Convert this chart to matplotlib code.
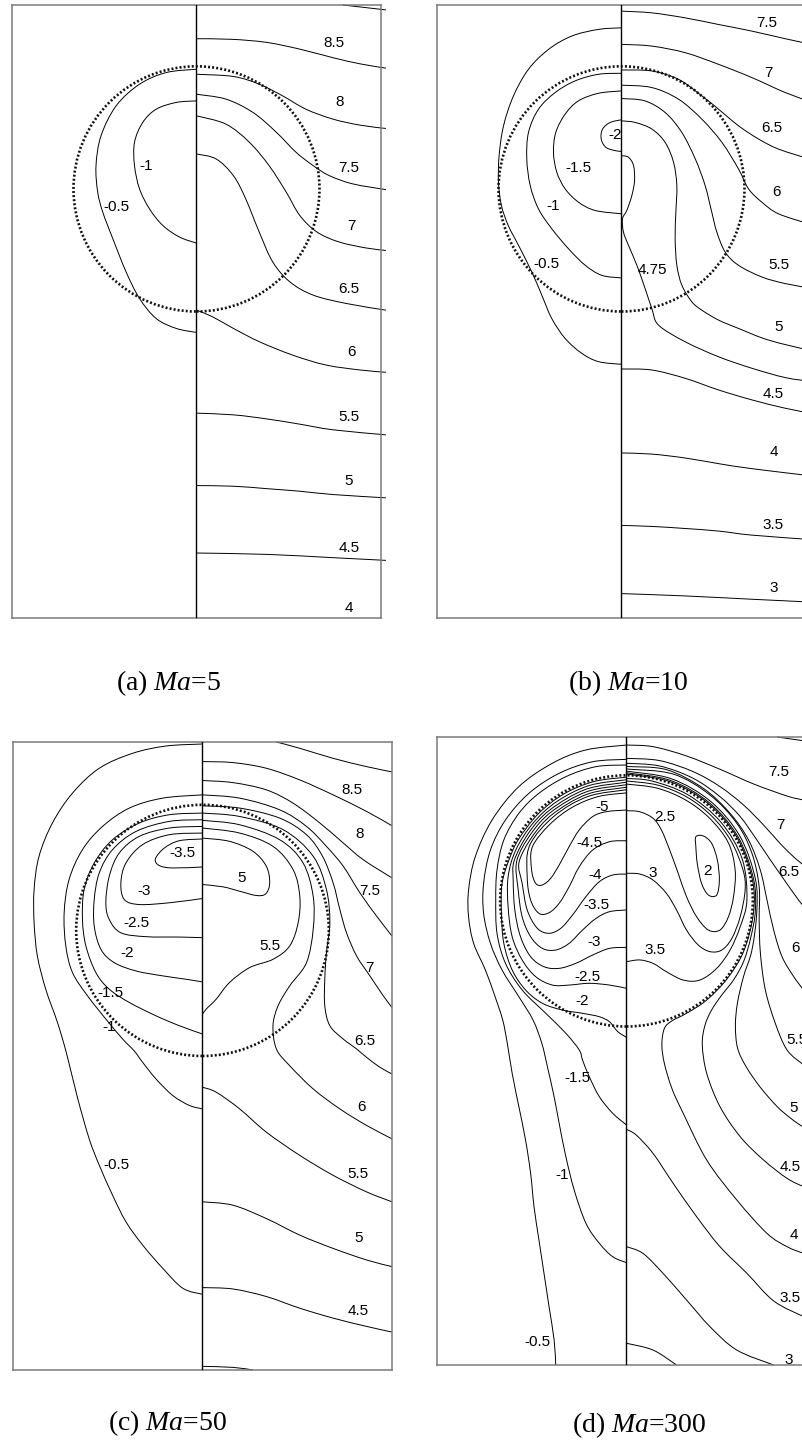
import matplotlib
matplotlib.use("Agg")
import matplotlib.pyplot as plt
from matplotlib.patches import Circle, PathPatch
from matplotlib.path import Path

# contour lines, in drop radii (drop centre on the axis)
# ---- (a) Ma=5
a_lines = [
    [(1.19, 1.50), (1.54, 1.46)],
    [(0, 1.225), (.29, 1.22), (.57, 1.195), (.84, 1.14), (1.11, 1.07), (1.33, 1.02), (1.54, .985)],
    [(0, .935), (.30, .917), (.51, .854), (.70, .759), (.89, .650), (1.11, .569), (1.33, .520), (1.54, .493)],
    [(0, .772), (.24, .732), (.46, .623), (.65, .461), (.81, .298), (.95, .189), (1.08, .108), (1.27, .041), (1.54, -.006)],
    [(0, .596), (.24, .528), (.43, .38), (.59, .19), (.73, -.027), (.84, -.217), (.98, -.352), (1.16, -.433), (1.38, -.482), (1.54, -.502)],
    [(0, .285), (.16, .244), (.30, .108), (.40, -.081), (.51, -.352), (.62, -.596), (.76, -.759), (.95, -.867), (1.22, -.935), (1.54, -.989)],
    [(0, -.989), (.13, -1.043), (.30, -1.138), (.51, -1.246), (.78, -1.355), (1.05, -1.436), (1.33, -1.477), (1.54, -1.496)],
    [(0, -1.829), (.30, -1.843), (.57, -1.876), (.84, -1.919), (1.11, -1.965), (1.54, -2.006)],
    [(0, -2.420), (.30, -2.425), (.57, -2.445), (.84, -2.466), (1.11, -2.493), (1.54, -2.520)],
    [(0, -2.970), (.57, -2.981), (1.11, -3.008), (1.54, -3.030)],
    [(0, .976), (-.246, .949), (-.463, .854), (-.653, .678), (-.776, .434), (-.817, .190), (-.803, -.027), (-.762, -.190),
     (-.680, -.407), (-.572, -.678), (-.463, -.894), (-.328, -1.057), (-.165, -1.138), (0, -1.171)],
    [(0, .718), (-.165, .705), (-.328, .650), (-.437, .542), (-.504, .380), (-.504, .190), (-.463, 0), (-.382, -.163),
     (-.274, -.298), (-.138, -.393), (0, -.442)],
]
a_labels = [("8.5", 1.12, 1.19), ("8", 1.16, .71), ("7.5", 1.24, .168), ("7", 1.26, -.306), ("6.5", 1.24, -.82),
            ("6", 1.26, -1.33), ("5.5", 1.24, -1.862), ("5", 1.24, -2.38), ("4.5", 1.24, -2.93), ("4", 1.24, -3.42),
            ("-0.5", -.65, -.15), ("-1", -.41, .19)]

# ---- (b) Ma=10
b_lines = [
    [(0, 1.450), (.245, 1.436), (.518, 1.395), (.789, 1.341), (1.060, 1.287), (1.331, 1.225), (1.54, 1.18)],
    [(0, 1.179), (.245, 1.165), (.518, 1.111), (.789, 1.016), (1.060, .908), (1.331, .786), (1.54, .71)],
    [(0, .970), (.245, .962), (.463, .894), (.653, .759), (.789, .650), (.951, .515), (1.114, .407), (1.276, .325), (1.54, .24)],
    [(0, .846), (.245, .827), (.463, .732), (.653, .569), (.816, .380), (.951, .163), (1.033, 0), (1.141, -.108), (1.276, -.203), (1.54, -.29)],
    [(0, .737), (.19, .718), (.355, .623), (.49, .461), (.60, .244), (.68, .027), (.734, -.190), (.775, -.352), (.843, -.515),
     (.951, -.623), (1.14, -.718), (1.33, -.772), (1.54, -.81)],
    [(0, .555), (.111, .542), (.247, .488), (.355, .379), (.423, .217), (.450, .027), (.442, -.190), (.436, -.407), (.450, -.623),
     (.491, -.786), (.572, -.921), (.653, -.989), (.789, -1.070), (.951, -1.138), (1.195, -1.233), (1.54, -1.32)],
    [(0, .271), (.057, .258), (.098, .190), (.106, .068), (.084, -.054), (.043, -.176), (.008, -.244), (.016, -.352), (.057, -.461),
     (.125, -.623), (.192, -.813), (.247, -.976), (.301, -1.111), (.518, -1.247), (.789, -1.369), (1.060, -1.463), (1.331, -1.539), (1.54, -1.57)],
    [(0, -1.469), (.245, -1.477), (.518, -1.545), (.789, -1.640), (1.060, -1.721), (1.331, -1.789), (1.54, -1.83)],
    [(0, -2.154), (.245, -2.163), (.518, -2.195), (.789, -2.241), (1.060, -2.282), (1.54, -2.34)],
    [(0, -2.745), (.245, -2.753), (.518, -2.770), (.789, -2.791), (1.060, -2.824), (1.54, -2.86)],
    [(0, -3.301), (.518, -3.320), (1.060, -3.347), (1.54, -3.37)],
    [(0, 1.314), (-.187, 1.301), (-.404, 1.247), (-.593, 1.138), (-.756, .976), (-.878, .759), (-.959, .515), (-.995, .271),
     (-1.0, .054), (-.976, -.136), (-.921, -.298), (-.837, -.461), (-.729, -.678), (-.648, -.867), (-.567, -1.057),
     (-.458, -1.220), (-.323, -1.341), (-.187, -1.409), (0, -1.431)],
    [(0, .943), (-.187, .935), (-.377, .881), (-.539, .786), (-.675, .650), (-.756, .461), (-.770, .244), (-.742, .027),
     (-.675, -.163), (-.567, -.325), (-.431, -.488), (-.295, -.623), (-.160, -.705), (0, -.726)],
    [(0, .799), (-.187, .780), (-.350, .718), (-.458, .610), (-.534, .461), (-.553, .298), (-.526, .136), (-.458, 0),
     (-.350, -.108), (-.214, -.176), (0, -.203)],
    [(0, .564), (-.092, .542), (-.154, .488), (-.165, .407), (-.127, .339), (-.051, .312), (0, .306)],
]
b_labels = [("7.5", 1.18, 1.355), ("7", 1.195, .949), ("6.5", 1.22, .50), ("6", 1.26, -.027), ("5.5", 1.276, -.62),
            ("5", 1.276, -1.125), ("4.75", .25, -.664), ("4.5", 1.236, -1.675), ("4", 1.236, -2.146),
            ("3.5", 1.228, -2.74), ("3", 1.236, -3.257), ("-0.5", -.607, -.610), ("-1", -.553, -.136),
            ("-1.5", -.350, .168), ("-2", -.051, .439)]

# ---- (c) Ma=50
c_lines = [
    [(.585, 1.5), (.770, 1.450), (1.034, 1.370), (1.299, 1.304), (1.5, 1.262)],
    [(0, 1.344), (.241, 1.336), (.505, 1.291), (.770, 1.198), (1.034, 1.079), (1.299, .947), (1.5, .833)],
    [(0, 1.193), (.238, 1.177), (.505, 1.119), (.717, 1.013), (.929, .855), (1.114, .696), (1.272, .563), (1.5, .418)],
    [(0, 1.079), (.294, 1.053), (.611, .960), (.823, .828), (.981, .669), (1.114, .511), (1.246, .299), (1.378, .114), (1.5, -.045)],
    [(0, .992), (.294, .974), (.611, .894), (.823, .762), (.950, .590), (1.034, .378), (1.087, .167), (1.140, -.019),
     (1.220, -.204), (1.325, -.362), (1.431, -.521), (1.5, -.614)],
    [(0, .934), (.294, .907), (.638, .802), (.876, .590), (.981, .325), (1.008, .061), (.981, -.177), (.968, -.389),
     (.968, -.601), (1.008, -.759), (1.114, -.865), (1.220, -.944), (1.299, -1.011), (1.405, -1.090), (1.5, -1.143)],
    [(0, .876), (.294, .841), (.611, .722), (.796, .537), (.876, .272), (.876, .008), (.823, -.257), (.690, -.442),
     (.598, -.601), (.558, -.759), (.585, -.944), (.690, -1.077), (.876, -1.262), (1.087, -1.421), (1.299, -1.553), (1.5, -1.659)],
    [(0, .815), (.294, .775), (.558, .669), (.717, .484), (.770, .272), (.757, .061), (.690, -.124), (.558, -.230),
     (.373, -.296), (.214, -.415), (.108, -.548), (.029, -.627), (0, -.667)],
    [(0, .735), (.214, .709), (.399, .630), (.505, .511), (.532, .378), (.500, .291), (.426, .278), (.294, .312), (.161, .347), (0, .365)],
    [(0, -1.249), (.108, -1.288), (.294, -1.421), (.505, -1.606), (.770, -1.791), (1.034, -1.950), (1.299, -2.082), (1.5, -2.161)],
    [(0, -2.161), (.241, -2.188), (.505, -2.294), (.770, -2.426), (1.034, -2.532), (1.299, -2.624), (1.5, -2.677)],
    [(0, -2.844), (.241, -2.855), (.505, -2.915), (.770, -3.008), (1.034, -3.087), (1.299, -3.153), (1.5, -3.198)],
    [(0, -3.471), (.241, -3.479), (.399, -3.5)],
    [(0, 1.484), (-.288, 1.468), (-.553, 1.410), (-.817, 1.291), (-1.029, 1.093), (-1.188, .855), (-1.294, .590),
     (-1.333, .325), (-1.333, .061), (-1.307, -.204), (-1.241, -.468), (-1.148, -.733), (-1.075, -.984),
     (-.990, -1.330), (-.897, -1.659), (-.817, -1.870), (-.712, -2.108), (-.606, -2.320), (-.474, -2.505), (-.315, -2.690),
     (-.156, -2.849), (0, -2.897)],
    [(0, 1.079), (-.315, 1.053), (-.579, .974), (-.791, .828), (-.950, .643), (-1.056, .405), (-1.095, .140), (-1.082, -.124),
     (-1.029, -.336), (-.910, -.521), (-.765, -.706), (-.632, -.865), (-.540, -.960), (-.474, -1.050), (-.368, -1.183),
     (-.235, -1.315), (-.103, -1.394), (0, -1.421)],
    [(0, .934), (-.262, .921), (-.500, .855), (-.712, .722), (-.857, .537), (-.937, .325), (-.950, .087), (-.923, -.124),
     (-.844, -.336), (-.738, -.468), (-.579, -.574), (-.368, -.680), (-.183, -.759), (0, -.825)],
    [(0, .881), (-.262, .868), (-.526, .788), (-.712, .643), (-.817, .458), (-.857, .246), (-.857, .034), (-.804, -.151),
     (-.698, -.257), (-.526, -.323), (-.315, -.362), (-.130, -.389), (0, -.410)],
    [(0, .828), (-.262, .815), (-.500, .749), (-.659, .616), (-.738, .431), (-.765, .220), (-.738, .087), (-.646, -.019),
     (-.447, -.050), (-.183, -.053), (0, -.058)],
    [(0, .775), (-.262, .762), (-.474, .683), (-.606, .537), (-.646, .378), (-.619, .246), (-.500, .206), (-.262, .220), (0, .254)],
    [(0, .728), (-.183, .714), (-.302, .656), (-.373, .569), (-.341, .516), (-.235, .497), (0, .505)],
]
c_labels = [("8.5", 1.18, 1.114), ("8", 1.241, .770), ("7.5", 1.325, .312), ("7", 1.325, -.296), ("6.5", 1.286, -.878),
            ("6", 1.259, -1.407), ("5.5", .532, -.124), ("5", .307, .418), ("5.5", 1.233, -1.937), ("5", 1.233, -2.452),
            ("4.5", 1.233, -3.034), ("-0.5", -.685, -1.870), ("-1", -.738, -.772), ("-1.5", -.725, -.495),
            ("-2", -.593, -.177), ("-2.5", -.526, .061), ("-3", -.460, .312), ("-3.5", -.156, .616)]

# ---- (d) Ma=300 (drop centre slightly above the others)
d_lines = [
    [(1.192, 1.5), (1.404, 1.47), (1.5, 1.46)],
    [(0, 1.436), (.210, 1.423), (.475, 1.349), (.740, 1.243), (1.006, 1.126), (1.271, 1.030), (1.404, .998), (1.5, .98)],
    [(0, 1.330), (.263, 1.312), (.528, 1.224), (.740, 1.105), (.926, .959), (1.085, .799), (1.218, .650), (1.324, .545), (1.404, .480), (1.5, .42)],
    [(0, 1.291), (.263, 1.269), (.528, 1.171), (.740, 1.025), (.900, .866), (1.032, .680), (1.139, .521), (1.231, .388),
     (1.324, .255), (1.404, .149), (1.5, .05)],
    [(0, 1.265), (.316, 1.240), (.608, 1.091), (.820, .892), (.966, .680), (1.059, .441), (1.112, .202), (1.165, -.037),
     (1.231, -.249), (1.324, -.408), (1.404, -.514), (1.5, -.60)],
    [(0, 1.245), (.369, 1.205), (.661, 1.038), (.873, .813), (.993, .574), (1.05, .308), (1.05, .043), (1.06, -.222),
     (1.099, -.514), (1.178, -.780), (1.271, -.992), (1.404, -1.111), (1.5, -1.17)],
    [(0, 1.228), (.354, 1.168), (.665, .988), (.896, .713), (1.019, .375), (1.031, .105), (.993, -.196), (.926, -.408),
     (.878, -.620), (.862, -.80), (.88, -.98), (.95, -1.13), (1.06, -1.29), (1.19, -1.44), (1.30, -1.536), (1.404, -1.608), (1.5, -1.65)],
    [(0, 1.215), (.349, 1.154), (.656, .976), (.883, .705), (1.005, .372), (1.02, .12), (.985, -.09), (.93, -.28), (.85, -.43),
     (.75, -.56), (.67, -.68), (.62, -.80), (.60, -.95), (.635, -1.178), (.740, -1.443), (.900, -1.682), (1.085, -1.868),
     (1.271, -2.014), (1.404, -2.080), (1.5, -2.11)],
    [(0, 1.205), (.345, 1.144), (.649, .969), (.875, .70), (.995, .37), (1.005, .10), (.93, -.2), (.80, -.42), (.635, -.594),
     (.475, -.70), (.36, -.76), (.30, -.82), (.28, -.95), (.30, -1.10), (.36, -1.30), (.449, -1.496), (.635, -1.868),
     (.873, -2.186), (1.112, -2.452), (1.271, -2.558), (1.404, -2.611), (1.5, -2.63)],
    [(0, -1.624), (.077, -1.669), (.210, -1.815), (.369, -2.053), (.555, -2.319), (.740, -2.558), (.953, -2.770),
     (1.165, -2.99), (1.404, -3.115), (1.5, -3.15)],
    [(0, -2.558), (.130, -2.611), (.289, -2.770), (.475, -2.982), (.661, -3.195), (.873, -3.381), (1.165, -3.5)],
    [(0, -3.327), (.210, -3.381), (.396, -3.5)],
    [(0, -.289), (.104, -.275), (.210, -.302), (.316, -.369), (.449, -.435), (.581, -.435), (.714, -.342), (.820, -.196),
     (.900, -.010), (.953, .202), (.916, .528), (.747, .822), (.488, 1.039), (.203, 1.149), (0, 1.17)],
    [(0, .415), (.104, .409), (.210, .361), (.316, .255), (.396, .123), (.475, -.037), (.568, -.156), (.661, -.209),
     (.754, -.196), (.834, -.103), (.900, .069), (.939, .282), (.922, .442), (.827, .673), (.675, .870), (.478, 1.022),
     (.247, 1.117), (0, 1.15)],
    [(0, .913), (.104, .905), (.210, .853), (.276, .760), (.342, .600), (.409, .415), (.475, .229), (.555, .069),
     (.648, -.037), (.740, -.037), (.807, .069), (.847, .229), (.860, .441), (.805, .66), (.658, .853), (.465, 1.0),
     (.241, 1.093), (0, 1.125)],
    [(.549, .706), (.608, .712), (.674, .653), (.719, .521), (.735, .361), (.714, .242), (.648, .242), (.594, .335),
     (.560, .494), (.549, .627), (.549, .706)],
    [(0, 1.436), (-.321, 1.397), (-.587, 1.291), (-.852, 1.105), (-1.064, .839), (-1.197, .547), (-1.25, .282), (-1.25, .069),
     (-1.210, -.143), (-1.117, -.355), (-1.04, -.568), (-.98, -.753), (-.945, -.93), (-.905, -1.178), (-.852, -1.443),
     (-.799, -1.709), (-.759, -1.974), (-.732, -2.240), (-.693, -2.505), (-.653, -2.770), (-.613, -3.036), (-.573, -3.301), (-.560, -3.5)],
    [(0, 1.322), (-.268, 1.303), (-.533, 1.211), (-.772, 1.052), (-.958, .839), (-1.077, .600), (-1.131, .335), (-1.131, .096),
     (-1.077, -.143), (-.985, -.355), (-.852, -.568), (-.74, -.753), (-.67, -.94), (-.626, -1.125), (-.573, -1.364),
     (-.533, -1.576), (-.480, -1.841), (-.414, -2.107), (-.321, -2.372), (-.215, -2.531), (-.109, -2.638), (0, -2.685)],
    [(0, 1.277), (-.241, 1.264), (-.480, 1.184), (-.693, 1.052), (-.852, .892), (-.971, .680), (-1.025, .441), (-1.035, .202),
     (-1.025, -.063), (-.958, -.302), (-.826, -.514), (-.639, -.700), (-.480, -.859), (-.374, -.992), (-.348, -1.072),
     (-.295, -1.204), (-.215, -1.364), (-.109, -1.496), (0, -1.589)],
    [(0, -.891), (-.069, -.846), (-.135, -.767), (-.215, -.727), (-.348, -.700), (-.507, -.674), (-.666, -.620), (-.799, -.514),
     (-.905, -.355), (-.971, -.143), (-.990, .096), (-.985, .335), (-.926, .532), (-.853, .688), (-.696, .891), (-.493, 1.048),
     (-.255, 1.146), (0, 1.18)],
    [(0, -.501), (-.135, -.475), (-.295, -.461), (-.454, -.475), (-.587, -.475), (-.719, -.408), (-.826, -.275), (-.905, -.090),
     (-.937, .149), (-.937, .388), (-.875, .603), (-.739, .815), (-.553, .985), (-.298, 1.113), (0, 1.16)],
    [(0, -.175), (-.135, -.183), (-.268, -.236), (-.401, -.302), (-.533, -.342), (-.653, -.329), (-.759, -.249), (-.839, -.090),
     (-.884, .123), (-.897, .361), (-.888, .518), (-.774, .737), (-.607, .919), (-.323, 1.083), (0, 1.14)],
    [(0, .123), (-.135, .109), (-.241, .056), (-.348, -.037), (-.454, -.143), (-.560, -.196), (-.666, -.183), (-.759, -.090),
     (-.826, .069), (-.857, .282), (-.869, .511), (-.758, .726), (-.595, .904), (-.316, 1.064), (0, 1.12)],
    [(0, .409), (-.109, .401), (-.215, .348), (-.321, .229), (-.427, .083), (-.520, -.023), (-.613, -.063), (-.706, -.023),
     (-.786, .123), (-.826, .335), (-.850, .505), (-.741, .714), (-.582, .888), (-.310, 1.045), (0, 1.10)],
    [(0, .674), (-.135, .666), (-.268, .600), (-.374, .467), (-.454, .308), (-.533, .176), (-.613, .101), (-.693, .096),
     (-.759, .202), (-.786, .388), (-.766, .638), (-.569, .873), (-.303, 1.027), (0, 1.08)],
    [(0, .919), (-.162, .905), (-.268, .866), (-.374, .760), (-.454, .627), (-.533, .481), (-.600, .375), (-.666, .322),
     (-.719, .335), (-.751, .441), (-.745, .625), (-.608, .803), (-.43, .94), (-.223, 1.026), (0, 1.055)],
]
d_labels = [("7.5", 1.205, 1.224), ("7", 1.218, .80), ("6.5", 1.284, .428), ("6", 1.338, -.183), ("5.5", 1.351, -.912),
            ("5", 1.324, -1.456), ("4.5", 1.298, -1.921), ("4", 1.324, -2.465), ("3.5", 1.298, -2.969), ("3", 1.284, -3.460),
            ("2.5", .303, .866), ("2", .640, .436), ("3", .210, .415), ("3.5", .223, -.196),
            ("-5", -.189, .945), ("-4.5", -.295, .653), ("-4", -.247, .401), ("-3.5", -.241, .162), ("-3", -.255, -.130),
            ("-2.5", -.308, -.408), ("-2", -.348, -.599), ("-1.5", -.388, -1.218), ("-1", -.507, -1.987), ("-0.5", -.706, -3.314)]

drop_y = [0.0, 0.0, 0.0, 0.195]
captions = ["(a) $Ma$=5", "(b) $Ma$=10", "(c) $Ma$=50", "(d) $Ma$=300"]

plt.rcParams['mathtext.fontset'] = 'custom'
plt.rcParams['mathtext.rm'] = 'Liberation Serif'
plt.rcParams['mathtext.it'] = 'Liberation Serif:italic'


def smooth_path(pts):
    # stroke the read points as a smooth curve (Catmull-Rom -> cubic Bezier)
    closed = len(pts) > 3 and pts[0] == pts[-1]
    p = pts[:-1] if closed else pts
    n = len(p)
    verts = [p[0]]
    codes = [Path.MOVETO]
    nseg = n if closed else n - 1
    for k in range(nseg):
        p0 = p[(k - 1) % n] if (closed or k > 0) else p[k]
        p1 = p[k]
        p2 = p[(k + 1) % n]
        p3 = p[(k + 2) % n] if (closed or k + 2 < n) else p2
        c1 = (p1[0] + (p2[0] - p0[0]) / 6, p1[1] + (p2[1] - p0[1]) / 6)
        c2 = (p2[0] - (p3[0] - p1[0]) / 6, p2[1] - (p3[1] - p1[1]) / 6)
        verts += [c1, c2, p2]
        codes += [Path.CURVE4] * 3
    return Path(verts, codes)


W, H = 803, 1440
fig = plt.figure(figsize=(W / 100, H / 100), dpi=100)

# panel boxes in pixels (left, top, right, bottom) and caption centres
boxes = [(12, 5, 381, 618), (437, 5, 806, 618), (13, 742, 392, 1370), (437, 737, 816, 1365)]
cap_pos = [(169, 683), (628, 683), (168, 1423), (639, 1425)]

all_lines = [a_lines, b_lines, c_lines, d_lines]
all_labels = [a_labels, b_labels, c_labels, d_labels]

for i in range(4):
    x0, y0, x1, y1 = boxes[i]
    ax = fig.add_axes([x0 / W, 1 - y1 / H, (x1 - x0) / W, (y1 - y0) / H])
    ax.set_xlim(-1.5, 1.5)
    ax.set_ylim(-3.5, 1.5)
    ax.set_xticks([])
    ax.set_yticks([])
    for sp in ax.spines.values():
        sp.set_color('#7a7a7a')
        sp.set_linewidth(1.1)
    ax.axvline(0, color='black', lw=1.0, zorder=3)
    for ln in all_lines[i]:
        ax.add_patch(PathPatch(smooth_path(ln), fill=False, ec='black', lw=0.7,
                               clip_on=False, zorder=2))
    ax.add_patch(Circle((0, drop_y[i]), 1.0, fill=False, ec='#111111', lw=1.9,
                        ls=(0, (0.75, 0.8)), zorder=4))
    for s, x, y in all_labels[i]:
        ax.text(x, y, s, fontsize=11, family='Liberation Sans', ha='center', va='center',
                zorder=5, clip_on=False)
    cx, cy = cap_pos[i]
    fig.text(cx / W, 1 - cy / H, captions[i], ha='center', va='center', fontsize=20,
             family='Liberation Serif')

fig.savefig('out.png', dpi=100)
